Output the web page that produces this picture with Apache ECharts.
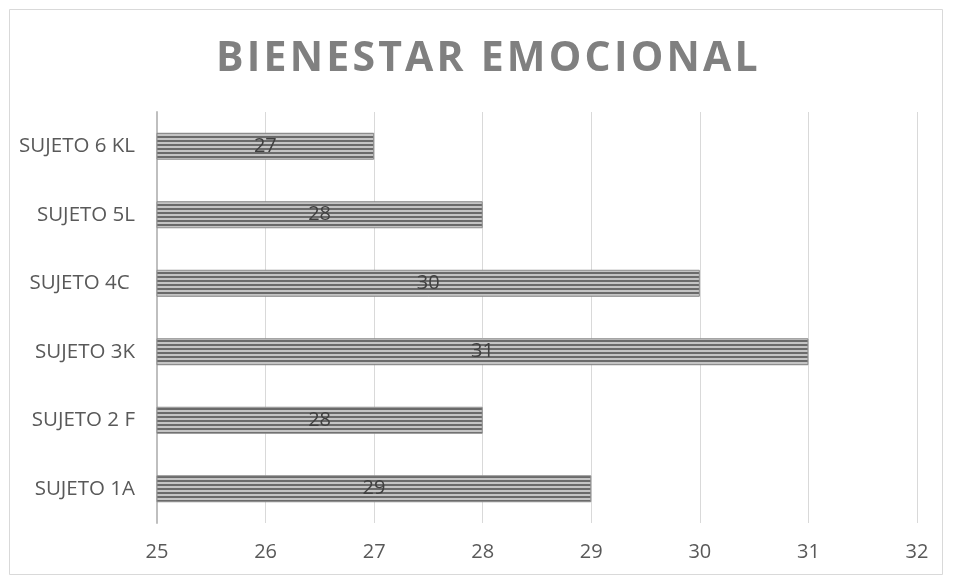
<!DOCTYPE html>
<html>
<head>
<meta charset="utf-8">
<script src="https://cdn.jsdelivr.net/npm/echarts@6/dist/echarts.min.js"></script>
<style>
  html, body { margin: 0; padding: 0; background: #fff; }
  #main { width: 954px; height: 581px; }
</style>
</head>
<body>
<div id="main"></div>
<script>
// datos del gráfico
const titulo = 'BIENESTAR EMOCIONAL';
const categorias = ['SUJETO 1A', 'SUJETO 2 F', 'SUJETO 3K', 'SUJETO 4C ', 'SUJETO 5L', 'SUJETO 6 KL'];
const valores = [29, 28, 31, 30, 28, 27];
const ejeMin = 25;
const ejeMax = 32;

// el título del original lleva espaciado entre letras; el canvas lo permite
const fillTextOrig = CanvasRenderingContext2D.prototype.fillText;
CanvasRenderingContext2D.prototype.fillText = function (t, x, y, w) {
  if (t === titulo) {
    const prev = this.letterSpacing;
    this.letterSpacing = '3.2px';
    fillTextOrig.call(this, t, x, y, w);
    this.letterSpacing = prev;
    return;
  }
  return fillTextOrig.call(this, t, x, y, w);
};

// patrón de rayas horizontales para las barras
function rayas() {
  const c = document.createElement('canvas');
  c.width = 8;
  c.height = 4;
  const ctx = c.getContext('2d');
  ctx.fillStyle = '#c4c4c4';
  ctx.fillRect(0, 0, 8, 4);
  ctx.fillStyle = '#6a6a6a';
  ctx.fillRect(0, 0, 8, 2);
  return c;
}

const chart = echarts.init(document.getElementById('main'));

const option = {
  backgroundColor: '#fff',
  animation: false,
  title: {
    text: titulo,
    left: 211,
    top: 34,
    textStyle: {
      fontFamily: 'Open Sans',
      fontWeight: 'bold',
      fontSize: 41,
      color: '#808080'
    }
  },
  graphic: [{
    type: 'rect',
    shape: { x: 9.5, y: 9.5, width: 933, height: 565 },
    style: { fill: 'none', stroke: '#d9d9d9', lineWidth: 1 },
    silent: true
  }],
  grid: {
    left: 157,
    right: 37,
    top: 112,
    bottom: 58,
    containLabel: false
  },
  xAxis: {
    type: 'value',
    min: ejeMin,
    max: ejeMax,
    interval: 1,
    axisLine: { show: false },
    axisTick: { show: false },
    axisLabel: {
      margin: 19,
      fontFamily: 'Open Sans',
      fontSize: 20,
      color: '#595959'
    },
    splitLine: { lineStyle: { color: '#d9d9d9', width: 1 } }
  },
  yAxis: {
    type: 'category',
    data: categorias,
    axisLine: { lineStyle: { color: '#bfbfbf', width: 2 } },
    axisTick: { show: false },
    axisLabel: {
      margin: 22,
      fontFamily: 'Open Sans',
      fontSize: 20.5,
      color: '#595959'
    }
  },
  series: [{
    type: 'bar',
    data: valores,
    barWidth: 27,
    itemStyle: {
      color: { image: rayas(), repeat: 'repeat' },
      borderColor: '#8c8c8c',
      borderWidth: 1
    },
    label: {
      show: true,
      position: 'inside',
      fontFamily: 'Open Sans',
      fontSize: 20,
      color: '#404040'
    }
  }]
};

chart.setOption(option);
</script>
</body>
</html>
